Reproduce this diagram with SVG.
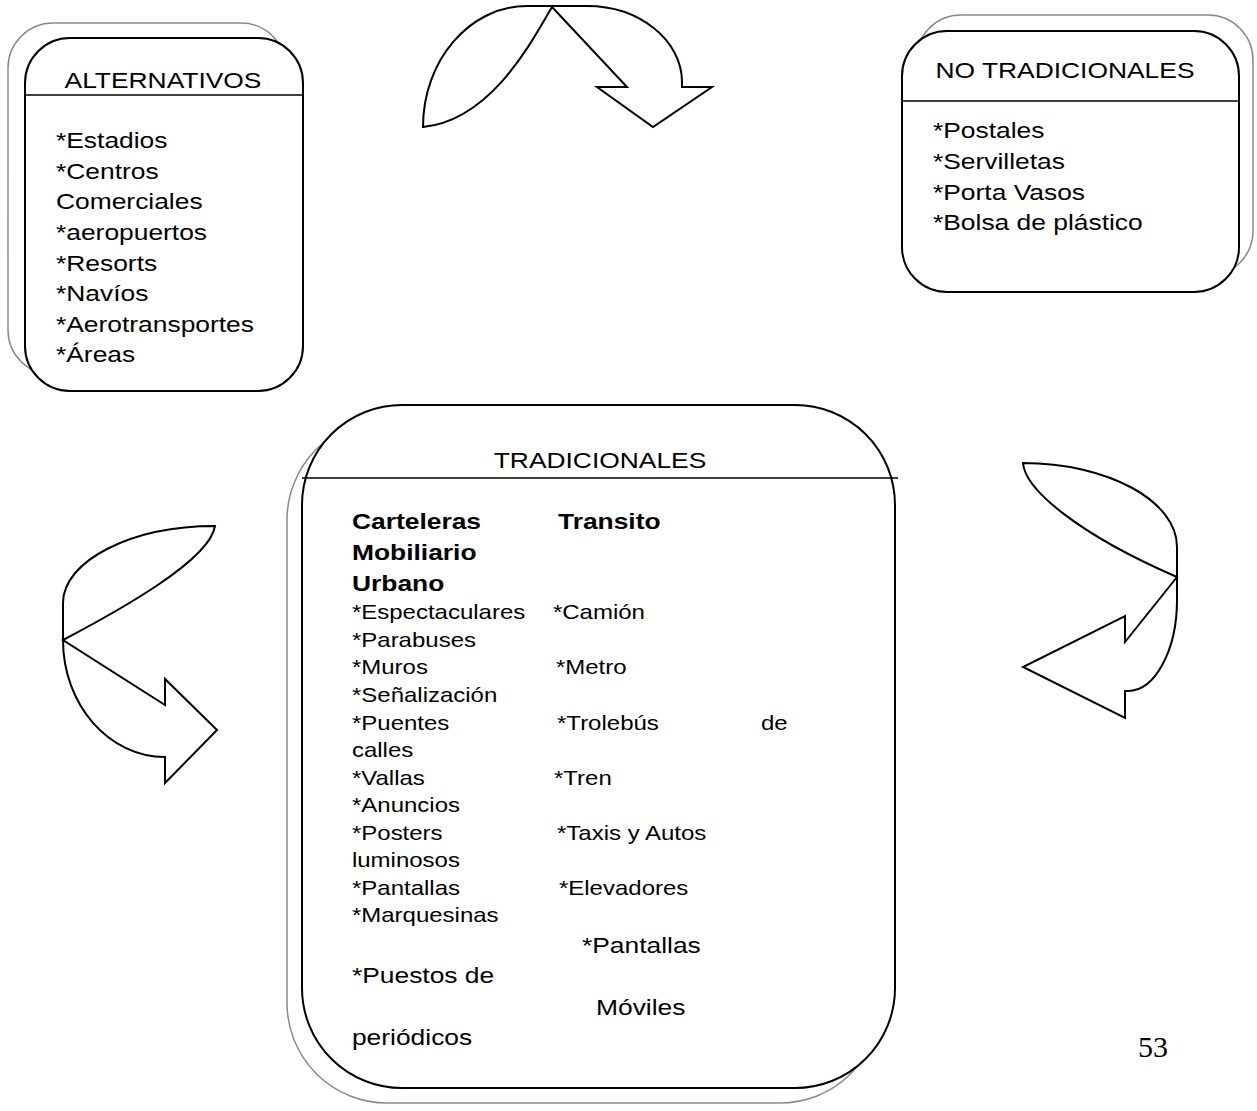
<svg xmlns="http://www.w3.org/2000/svg" width="1257" height="1111" viewBox="0 0 1257 1111">
<style>
.bg{fill:#fff}
.back{fill:#fff;stroke:#8a8a8a;stroke-width:1.5}
.front{fill:#fff;stroke:#000;stroke-width:2}
.div{stroke:#000;stroke-width:1.5;fill:none}
.arrow{fill:#fff;stroke:#000;stroke-width:2;stroke-linejoin:miter}
.t{font-family:"Liberation Sans",Arial,sans-serif;font-size:22px;fill:#000}
.s{font-family:"Liberation Sans",Arial,sans-serif;font-size:20px;fill:#000}
.b{font-family:"Liberation Sans",Arial,sans-serif;font-size:22px;font-weight:bold;fill:#000}
.h{font-family:"Liberation Sans",Arial,sans-serif;font-size:22px;fill:#000;text-anchor:middle}
.pg{font-family:"Liberation Serif","Times New Roman",serif;font-size:30px;fill:#000}
</style>
<rect class="bg" x="0" y="0" width="1257" height="1111"/>

<g id="connectors">
  <path class="arrow" d="M423,127 C423,60 470,6 527,6 L587,6 C639,6 682,40 682,82 L682,87 L712,87 L653,127 L597,87 L627,87 L552,7 C530,45 490,120 423,127 Z"/>
  <path class="arrow" d="M215,526 C131,526 63,561 63,603 L63,640 C63,705 109,757 165,757 L165,783 L217,730 L165,679 L165,705 L63,640 C120,610 210,560 215,526 Z"/>
  <path class="arrow" d="M1023,463 C1108,463 1177,501 1177,547 L1177,600 C1177,650 1155,691 1128,691 L1125,691 L1125,718 L1023,667 L1125,616 L1125,642 L1177,577 C1080,535 1025,490 1023,463 Z"/>
</g>

<g id="alternativos">
  <rect class="back" x="8" y="23" width="278" height="352" rx="45" ry="45"/>
  <rect class="front" x="25" y="38" width="278" height="353" rx="45" ry="45"/>
  <line class="div" x1="25" y1="95" x2="303" y2="95"/>
  <g transform="translate(163,0) scale(1.2,1)">
    <text class="h" x="0" y="88">ALTERNATIVOS</text>
  </g>
  <g transform="translate(56,0) scale(1.2,1)">
    <text class="t" x="0" y="148">*Estadios</text>
    <text class="t" x="0" y="179">*Centros</text>
    <text class="t" x="0" y="209">Comerciales</text>
    <text class="t" x="0" y="240">*aeropuertos</text>
    <text class="t" x="0" y="271">*Resorts</text>
    <text class="t" x="0" y="301">*Navíos</text>
    <text class="t" x="0" y="332">*Aerotransportes</text>
    <text class="t" x="0" y="362">*Áreas</text>
  </g>
</g>

<g id="no-tradicionales">
  <rect class="back" x="916" y="15" width="337" height="261" rx="45" ry="45"/>
  <rect class="front" x="902" y="31" width="337" height="261" rx="45" ry="45"/>
  <line class="div" x1="902" y1="101" x2="1239" y2="101"/>
  <g transform="translate(1065,0) scale(1.2,1)">
    <text class="h" x="0" y="78">NO TRADICIONALES</text>
  </g>
  <g transform="translate(933,0) scale(1.2,1)">
    <text class="t" x="0" y="138">*Postales</text>
    <text class="t" x="0" y="169">*Servilletas</text>
    <text class="t" x="0" y="200">*Porta Vasos</text>
    <text class="t" x="0" y="230">*Bolsa de plástico</text>
  </g>
</g>

<g id="tradicionales">
  <rect class="back" x="287" y="420" width="593" height="683" rx="100" ry="100"/>
  <rect class="front" x="302" y="405" width="593" height="683" rx="100" ry="100"/>
  <line class="div" x1="302" y1="478" x2="898" y2="478"/>
  <g transform="translate(600,0) scale(1.2,1)">
    <text class="h" x="0" y="468">TRADICIONALES</text>
  </g>
  <g transform="scale(1.2,1)">
    <text class="b" x="293.3" y="529">Carteleras</text>
    <text class="b" x="465" y="529">Transito</text>
    <text class="b" x="293.3" y="560">Mobiliario</text>
    <text class="b" x="293.3" y="591">Urbano</text>
    <text class="s" x="293.3" y="619">*Espectaculares</text>
    <text class="s" x="460.8" y="619">*Camión</text>
    <text class="s" x="293.3" y="647">*Parabuses</text>
    <text class="s" x="293.3" y="674">*Muros</text>
    <text class="s" x="463.3" y="674">*Metro</text>
    <text class="s" x="293.3" y="702">*Señalización</text>
    <text class="s" x="293.3" y="730">*Puentes</text>
    <text class="s" x="464.2" y="730">*Trolebús</text>
    <text class="s" x="634.2" y="730">de</text>
    <text class="s" x="293.3" y="757">calles</text>
    <text class="s" x="293.3" y="785">*Vallas</text>
    <text class="s" x="461.7" y="785">*Tren</text>
    <text class="s" x="293.3" y="812">*Anuncios</text>
    <text class="s" x="293.3" y="840">*Posters</text>
    <text class="s" x="464.2" y="840">*Taxis y Autos</text>
    <text class="s" x="293.3" y="867">luminosos</text>
    <text class="s" x="293.3" y="895">*Pantallas</text>
    <text class="s" x="465.8" y="895">*Elevadores</text>
    <text class="s" x="293.3" y="922">*Marquesinas</text>
    <text class="t" x="485" y="953">*Pantallas</text>
    <text class="t" x="293.3" y="983">*Puestos de</text>
    <text class="t" x="496.7" y="1015">Móviles</text>
    <text class="t" x="293.3" y="1045">periódicos</text>
  </g>
</g>

<text class="pg" x="1138" y="1057">53</text>
</svg>
